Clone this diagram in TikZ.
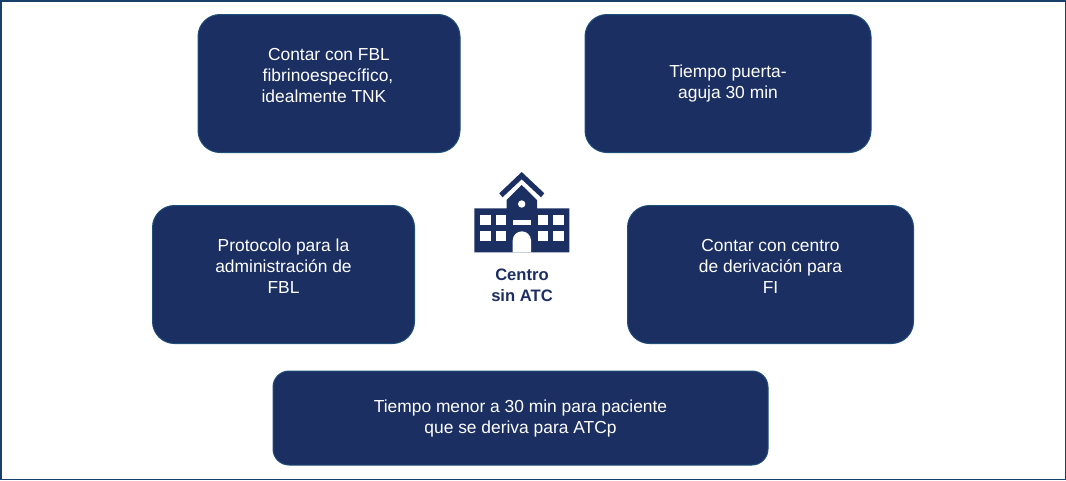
\documentclass[tikz,border=0pt]{standalone}
\usepackage{fontspec}
\setmainfont{Liberation Sans}
\definecolor{navy}{HTML}{1B2F63}
\definecolor{edgeblue}{HTML}{1F4E79}
\definecolor{framecol}{HTML}{17406A}
\tikzset{
 box/.style={draw=edgeblue,line width=1pt,fill=navy,rounded corners=22pt,text=white,align=center,font=\fontsize{17.4}{21}\selectfont,inner sep=0pt},
 lbl/.style={text=navy,align=center,font=\fontsize{16.6}{21}\selectfont\bfseries,inner sep=0pt},
 win/.style={fill=white,draw=none}
}
\begin{document}
\begin{tikzpicture}[x=1pt,y=-1pt]
\useasboundingbox (0,0) rectangle (1066,480);
\draw[framecol,line width=1.5pt] (0.75,0.75) rectangle (1065.25,479.25);
\node[box,minimum width=262pt,minimum height=138pt] (a) at (329,83.5) {Contar con FBL\\fibrinoespecífico,\kern2pt\mbox{}\\idealmente TNK\kern10pt\mbox{}\\[-5pt]\mbox{}};
\node[box,minimum width=286pt,minimum height=138pt] (b) at (728,83.5) {Tiempo puerta-\\aguja 30 min};
\node[box,minimum width=262pt,minimum height=138pt] (c) at (283.5,274.5) {Protocolo para la\\administración de\\FBL\\[-4pt]\mbox{}};
\node[box,minimum width=286pt,minimum height=138pt] (d) at (770.5,274.5) {Contar con centro\\de derivación para\\FI\\[-4pt]\mbox{}};
\node[box,minimum width=495pt,minimum height=94pt,rounded corners=16pt] (e) at (520.5,418) {Tiempo menor a 30 min para paciente\\que se deriva para ATCp};
\node[lbl] (l) at (522,285) {Centro\\sin ATC};
% icon
\fill[navy] (521.7,172) -- (544.3,193.3) -- (541,197.3) -- (521.7,179.3) -- (502.5,197.3) -- (499.3,193.3) -- cycle;
\fill[navy] (521.7,185) -- (537,200) -- (537,208.3) -- (569.3,208.3) -- (569.3,252.3) -- (474.3,252.3) -- (474.3,208.3) -- (506.7,208.3) -- (506.7,200) -- cycle;
\fill[win] (521.7,204) circle (3.7pt);
\foreach \x in {480,495.7,537.7,553.3}{
 \fill[win] (\x,215) rectangle +(10.7,10);
 \fill[win] (\x,230.7) rectangle +(10.7,10.3);
}
\fill[win] (512.7,220) rectangle (531,225);
\fill[win] (512.7,252.3) -- (512.7,240.5) arc[start angle=180,end angle=0,radius=9.15pt] -- (531,252.3) -- cycle;
\end{tikzpicture}
\end{document}
